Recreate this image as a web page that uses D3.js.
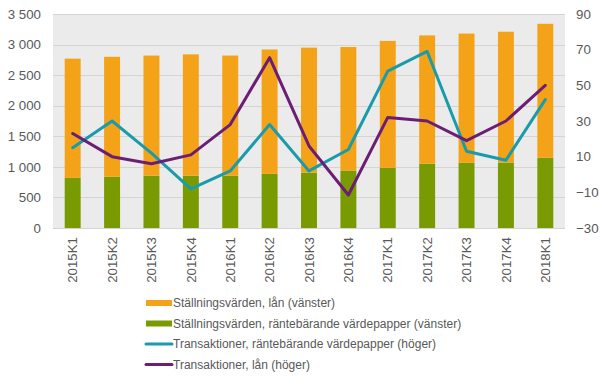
<!DOCTYPE html>
<html><head><meta charset="utf-8">
<script src="https://cdn.jsdelivr.net/npm/d3@7"></script>
<style>
body{margin:0;background:#fff;}
text{font-family:"Liberation Sans",Arial,sans-serif;fill:#595959;}
</style></head>
<body>
<svg id="c" width="604" height="382"></svg>
<script>
const categories = ["2015K1","2015K2","2015K3","2015K4","2016K1","2016K2","2016K3","2016K4","2017K1","2017K2","2017K3","2017K4","2018K1"];
const posSecurities = [820,840,855,855,855,885,905,940,985,1050,1070,1070,1150];
const posLoans = [1950,1960,1965,1985,1965,2035,2045,2020,2075,2100,2110,2140,2190];
const trSecurities = [15,30,12,-8,2,28,2,14,58,69,13,8,42];
const trLoans = [23,10,6,11,28,65.5,16,-11.5,32,30,19,30,50];
const leftTicks = [0,500,1000,1500,2000,2500,3000,3500];
const rightTicks = [-30,-10,10,30,50,70,90];
const legendLabels = ["Ställningsvärden, lån (vänster)","Ställningsvärden, räntebärande värdepapper (vänster)","Transaktioner, räntebärande värdepapper (höger)","Transaktioner, lån (höger)"];
const colors = {loans:"#F4A318", sec:"#7A9A01", trSec:"#1A9BAC", trLoans:"#6B1E74"};

const svg = d3.select("#c");
const L=53,R=565,T=14,B=228;
const x = d3.scaleBand().domain(categories).range([L,R]).paddingInner(0.595).paddingOuter(0.2975);
const yL = d3.scaleLinear().domain([0,3500]).range([B,T]);
const yR = d3.scaleLinear().domain([-30,90]).range([B,T]);

svg.append("rect").attr("x",L).attr("y",T).attr("width",R-L).attr("height",B-T).attr("fill","#EBEBEB");
svg.append("g").selectAll("line").data(leftTicks).join("line")
  .attr("x1",L).attr("x2",R).attr("y1",d=>Math.round(yL(d))+0.5).attr("y2",d=>Math.round(yL(d))+0.5)
  .attr("stroke","#D4D4D4").attr("stroke-width",1);

// stacked bars
svg.append("g").selectAll("rect").data(categories).join("rect")
  .attr("x",d=>x(d)).attr("width",x.bandwidth())
  .attr("y",(d,i)=>yL(posSecurities[i])).attr("height",(d,i)=>yL(0)-yL(posSecurities[i]))
  .attr("fill",colors.sec);
svg.append("g").selectAll("rect").data(categories).join("rect")
  .attr("x",d=>x(d)).attr("width",x.bandwidth())
  .attr("y",(d,i)=>yL(posSecurities[i]+posLoans[i])).attr("height",(d,i)=>yL(posSecurities[i])-yL(posSecurities[i]+posLoans[i]))
  .attr("fill",colors.loans);

const cx = d=>x(d)+x.bandwidth()/2;
const line = d3.line().x(d=>cx(d.c)).y(d=>yR(d.v));
svg.append("path").datum(categories.map((c,i)=>({c,v:trSecurities[i]})))
  .attr("d",line).attr("fill","none").attr("stroke",colors.trSec).attr("stroke-width",3).attr("stroke-linejoin","round").attr("stroke-linecap","round");
svg.append("path").datum(categories.map((c,i)=>({c,v:trLoans[i]})))
  .attr("d",line).attr("fill","none").attr("stroke",colors.trLoans).attr("stroke-width",3).attr("stroke-linejoin","round").attr("stroke-linecap","round");

// axes
const fmt = d=>d3.format(",")(d).replace(/,/g," ");
const axL = svg.append("g").attr("transform",`translate(${L},0)`).call(d3.axisLeft(yL).tickValues(leftTicks).tickFormat(fmt).tickSize(0).tickPadding(12));
axL.select(".domain").remove();
const axR = svg.append("g").attr("transform",`translate(${R},0)`).call(d3.axisRight(yR).tickValues(rightTicks).tickSize(0).tickPadding(11));
axR.select(".domain").remove();
const axB = svg.append("g").attr("transform",`translate(0,${B})`).call(d3.axisBottom(x).tickSize(0));
axB.select(".domain").remove();
axB.selectAll("text").attr("transform","rotate(-90)").attr("text-anchor","end").attr("dx","-9px").attr("dy","0.35em").attr("y",0).attr("x",0);
svg.selectAll(".tick text").style("font-family","'Liberation Sans',Arial,sans-serif").style("font-size","13.3px").attr("fill","#595959");

// legend
const lg = svg.append("g");
const lw=[6,6,3,3];
const lc=[colors.loans,colors.sec,colors.trSec,colors.trLoans];
legendLabels.forEach((t,i)=>{
  const yy = 303 + i*20.5;
  lg.append("line").attr("x1",146).attr("x2",172).attr("y1",yy).attr("y2",yy).attr("stroke",lc[i]).attr("stroke-width",lw[i]).attr("stroke-linecap",i>1?"round":"butt");
  lg.append("text").attr("x",173).attr("y",yy).attr("dy","0.35em").style("font-size","12px").text(t);
});
</script>
</body></html>
